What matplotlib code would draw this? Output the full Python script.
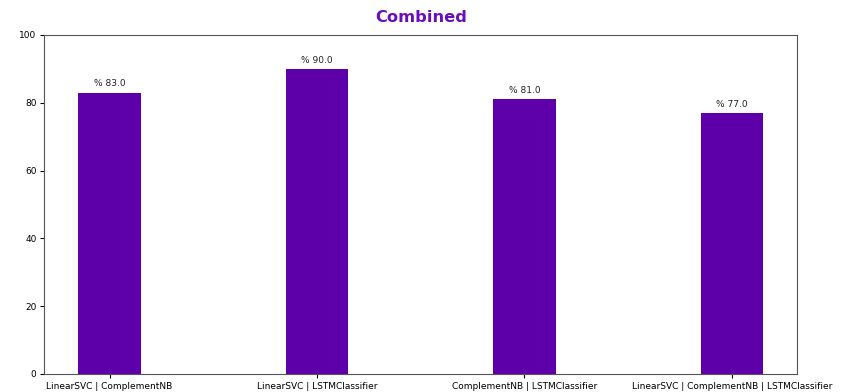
import matplotlib
matplotlib.use("Agg")
import matplotlib.pyplot as plt

models = ["LinearSVC | ComplementNB", "LinearSVC | LSTMClassifier",
          "ComplementNB | LSTMClassifier", "LinearSVC | ComplementNB | LSTMClassifier"]
accuracy = [83.0, 90.0, 81.0, 77.0]

fig = plt.figure(figsize=(8.5, 3.92), dpi=100)
ax = fig.add_axes([0.052, 0.046, 0.886, 0.865])

bars = ax.bar(models, accuracy, width=0.3, color="#5e00aa")
for rect, v in zip(bars, accuracy):
    ax.annotate(f"% {v}", (rect.get_x() + rect.get_width() / 2, rect.get_height()),
                xytext=(0, 3), textcoords="offset points", ha="center", va="bottom",
                fontsize=6.5, color="#222222")

ax.set_ylim(0, 100)
ax.tick_params(labelsize=6.5, length=3, pad=2.5)
ax.set_title("Combined", fontsize=11.7, fontweight="bold", color="#6a0dbf", pad=9)
for s in ax.spines.values():
    s.set_color("#555555")

fig.savefig("out.png", dpi=100)
